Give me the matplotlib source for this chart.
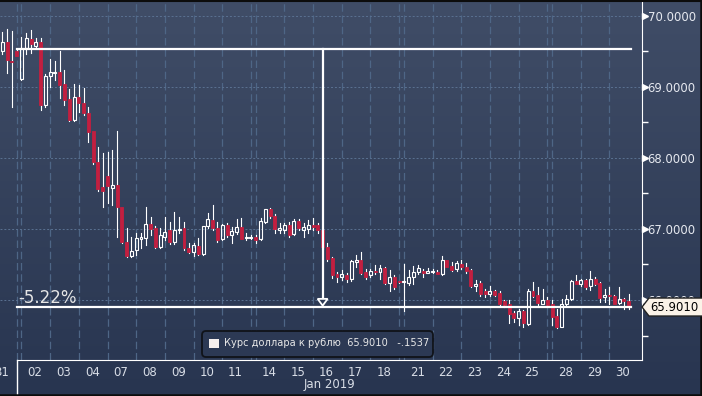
import matplotlib
matplotlib.use("Agg")
import matplotlib.pyplot as plt
import numpy as np
from matplotlib.patches import Rectangle, Polygon, FancyBboxPatch
from matplotlib.lines import Line2D
from matplotlib.ticker import FixedLocator
from matplotlib.transforms import IdentityTransform

# trading days on the x axis (6 bars per day, one extra bar after a weekend)
days = ["31", "02", "03", "04", "07", "08", "09", "10", "11", "14", "15",
        "16", "17", "18", "21", "22", "23", "24", "25", "28", "29", "30"]
weekend_after = ["31", "11", "18", "25"]
month_label = "Jan 2019"
first_slot = 3  # first bar that is visible on the chart

opens = [69.50, 69.64, 69.37, 69.50, 69.11, 69.55, 69.67, 69.58, 69.63, 68.74,
         69.15, 69.19, 69.21, 69.04, 68.83, 68.53, 68.86, 68.77, 68.64, 68.38,
         67.95, 67.59, 67.74, 67.58, 67.62, 67.31, 66.82, 66.62, 66.70, 66.86,
         66.88, 67.07, 67.01, 66.75, 66.89, 66.99, 66.81, 66.98, 67.01, 66.73,
         66.67, 66.76, 66.65, 67.04, 67.13, 67.01, 66.86, 67.06, 66.91, 66.96,
         67.03, 66.87, 66.87, 66.89, 66.86, 67.10, 67.28, 67.19, 66.99, 66.98,
         67.05, 66.93, 67.11, 66.99, 67.00, 67.05, 67.05, 66.98, 66.75, 66.59,
         66.37, 66.32, 66.35, 66.29, 66.54, 66.56, 66.39, 66.35, 66.41, 66.39,
         66.45, 66.24, 66.33, 66.27, 66.26, 66.24, 66.33, 66.39, 66.41, 66.38,
         66.39, 66.40, 66.37, 66.56, 66.48, 66.43, 66.51, 66.47, 66.42, 66.20,
         66.24, 66.12, 66.09, 66.12, 66.10, 65.98, 65.94, 65.82, 65.74, 65.84,
         65.66, 66.13, 66.07, 65.95, 66.00, 65.95, 65.77, 65.62, 65.94, 66.01,
         66.27, 66.23, 66.28, 66.20, 66.30, 66.24, 66.04, 66.07, 66.06, 65.96,
         66.02, 65.99]
highs = [69.78, 69.82, 69.79, 69.52, 69.71, 69.76, 69.80, 69.69, 69.69, 69.18,
         69.40, 69.36, 69.51, 69.24, 68.97, 69.04, 69.03, 68.99, 68.72, 68.38,
         68.16, 68.07, 68.09, 68.11, 68.38, 67.31, 67.01, 66.89, 66.94, 66.94,
         67.31, 67.17, 67.04, 67.01, 67.17, 67.10, 67.24, 67.17, 67.10, 66.80,
         66.80, 66.88, 67.04, 67.22, 67.34, 67.10, 67.07, 67.08, 67.03, 67.14,
         67.16, 66.94, 66.91, 66.92, 67.15, 67.28, 67.30, 67.21, 67.08, 67.08,
         67.10, 67.14, 67.14, 67.08, 67.12, 67.16, 67.09, 67.00, 66.80, 66.61,
         66.40, 66.42, 66.38, 66.57, 66.63, 66.68, 66.44, 66.43, 66.49, 66.49,
         66.47, 66.42, 66.35, 66.27, 66.51, 66.42, 66.48, 66.49, 66.43, 66.45,
         66.43, 66.42, 66.62, 66.57, 66.54, 66.55, 66.56, 66.52, 66.43, 66.28,
         66.27, 66.15, 66.20, 66.14, 66.13, 66.00, 66.00, 65.85, 65.88, 65.86,
         66.15, 66.26, 66.18, 66.15, 66.04, 66.00, 65.88, 66.02, 66.07, 66.28,
         66.35, 66.30, 66.30, 66.41, 66.33, 66.26, 66.15, 66.18, 66.07, 66.18,
         66.03, 66.09]
lows = [69.46, 69.20, 68.72, 69.43, 69.10, 69.47, 69.48, 69.55, 68.68, 68.72,
        69.00, 69.10, 68.85, 68.75, 68.52, 68.52, 68.65, 68.61, 68.22, 67.91,
        67.53, 67.31, 67.36, 67.34, 66.89, 66.80, 66.61, 66.61, 66.63, 66.73,
        66.77, 66.91, 66.73, 66.73, 66.85, 66.79, 66.79, 66.95, 66.70, 66.66,
        66.62, 66.63, 66.63, 67.01, 66.99, 66.82, 66.84, 66.89, 66.80, 66.93,
        66.86, 66.85, 66.86, 66.80, 66.85, 67.08, 67.15, 66.94, 66.95, 66.95,
        66.89, 66.92, 66.98, 66.89, 66.95, 66.99, 66.95, 66.72, 66.55, 66.31,
        66.26, 66.28, 66.26, 66.27, 66.47, 66.37, 66.29, 66.32, 66.37, 66.29,
        66.23, 66.13, 66.16, 66.24, 65.84, 66.21, 66.22, 66.37, 66.32, 66.38,
        66.38, 66.36, 66.35, 66.46, 66.41, 66.41, 66.43, 66.38, 66.19, 66.12,
        66.05, 66.04, 66.06, 66.06, 65.93, 65.90, 65.68, 65.69, 65.65, 65.62,
        65.65, 66.04, 65.93, 65.94, 65.91, 65.65, 65.60, 65.62, 65.93, 66.00,
        66.22, 66.20, 66.16, 66.14, 66.21, 65.97, 65.97, 65.94, 65.94, 65.95,
        65.88, 65.88]
closes = [69.63, 69.38, 69.35, 69.44, 69.55, 69.69, 69.60, 69.63, 68.74, 69.15,
          69.21, 69.21, 69.03, 68.82, 68.53, 68.86, 68.77, 68.64, 68.37, 67.95,
          67.56, 67.54, 67.61, 67.62, 67.31, 66.82, 66.62, 66.69, 66.87, 66.89,
          67.07, 67.00, 66.75, 66.92, 66.96, 66.81, 66.99, 67.00, 66.73, 66.67,
          66.77, 66.65, 67.04, 67.14, 67.01, 66.85, 67.06, 66.91, 66.97, 67.03,
          66.86, 66.88, 66.88, 66.84, 67.11, 67.28, 67.19, 67.00, 67.02, 67.05,
          66.91, 67.11, 67.01, 67.03, 67.05, 67.03, 66.98, 66.75, 66.58, 66.35,
          66.33, 66.37, 66.29, 66.55, 66.57, 66.38, 66.32, 66.41, 66.39, 66.45,
          66.24, 66.32, 66.18, 66.25, 66.27, 66.33, 66.40, 66.45, 66.38, 66.41,
          66.40, 66.37, 66.56, 66.47, 66.42, 66.52, 66.46, 66.41, 66.20, 66.22,
          66.09, 66.08, 66.12, 66.07, 65.95, 65.93, 65.80, 65.74, 65.84, 65.67,
          66.13, 66.06, 65.96, 66.00, 65.93, 65.76, 65.62, 65.95, 66.01, 66.27,
          66.23, 66.28, 66.18, 66.30, 66.23, 66.03, 66.07, 66.05, 65.95, 66.01,
          65.98, 65.901]

start_level = 69.53
last_price = 65.9010
last_change = -0.1537
series_name = "Курс доллара к рублю"
y_ticks = [66, 67, 68, 69, 70]
y_minor = [65.5, 66.5, 67.5, 68.5, 69.5]

# slot layout
day_start = []
gap_slots = []
s = 0
for d in days:
    day_start.append(s)
    s += 6
    if d in weekend_after:
        gap_slots.append(s)
        s += 1
grid_x = sorted(day_start[1:] + gap_slots)
xs = np.arange(len(opens)) + first_slot

W, H = 702, 396
fig = plt.figure(figsize=(W / 100, H / 100), dpi=100)

# gradient background
bg = fig.add_axes([0, 0, 1, 1], zorder=-10)
g = np.linspace(0, 1, 256)[:, None, None]
top_c = np.array([64, 77, 103]) / 255
bot_c = np.array([40, 53, 80]) / 255
bg.imshow(top_c * (1 - g) + bot_c * g, aspect="auto", extent=[0, 1, 0, 1])
bg.axis("off")

ax = fig.add_axes([0, 36 / H, 642 / W, 360 / H])
ax.set_facecolor("none")
ax.set_xlim(2.51, 136.8)
ax.set_ylim(65.155, 70.225)

# grid
for gx in grid_x:
    ax.axvline(gx, color="#4e6686", lw=0.9, dashes=(6, 3), zorder=0)
for gy in y_ticks:
    ax.axhline(gy, color="#5a7191", lw=0.7, dashes=(2, 2), zorder=0)

# candles
red = "#c21f40"
bw = 0.62
for x, o, h, l, c in zip(xs, opens, highs, lows, closes):
    lo_b, hi_b = min(o, c), max(o, c)
    if hi_b - lo_b < 0.012:
        hi_b = lo_b + 0.012
    ax.plot([x, x], [hi_b, h], color="white", lw=0.8, zorder=2)
    ax.plot([x, x], [l, lo_b], color="white", lw=0.8, zorder=2)
    if c >= o:
        ax.add_patch(Rectangle((x - bw / 2, lo_b), bw, hi_b - lo_b, fc="none",
                               ec="white", lw=0.8, zorder=3))
    else:
        ax.add_patch(Rectangle((x - bw / 2, lo_b), bw, hi_b - lo_b, fc=red,
                               ec=red, lw=0.6, zorder=3))

# measure lines
x0, x1 = gap_slots[0], xs[-1] + 0.5
ax.plot([x0, x1], [start_level, start_level], color="white", lw=1.6, zorder=4)
ax.plot([x0, x1], [last_price, last_price], color="white", lw=1.6, zorder=4)
ax_x = 70
tri_h = 0.115
ax.plot([ax_x, ax_x], [start_level, last_price + tri_h], color="white", lw=1.6, zorder=4)
ax.add_patch(Polygon([(ax_x - 1.05, last_price + tri_h), (ax_x + 1.05, last_price + tri_h),
                      (ax_x, last_price + 0.02)], closed=True, fc="#2e3b57",
                     ec="white", lw=1.3, zorder=5))
pct = (last_price / start_level - 1) * 100
ax.annotate(f"{pct:.2f}%", xy=(x0, last_price), xytext=(2, 4), textcoords="offset pixels",
            ha="left", va="baseline", fontsize=12, color="#e6e6e6", zorder=5)

# spines
for side in ["top", "left"]:
    ax.spines[side].set_visible(False)
ax.spines["right"].set_color("white")
ax.spines["bottom"].set_color("white")
ax.spines["bottom"].set_bounds(gap_slots[0], 136.8)
ax.plot([gap_slots[0], gap_slots[0]], [0, -0.095], color="white", lw=1,
        transform=ax.get_xaxis_transform(), clip_on=False)

# x ticks
ax.set_xticks([st + 2.8 for st in day_start])
ax.set_xticklabels(days)
ax.tick_params(axis="x", length=0, pad=4, labelsize=8.5, labelcolor="#d8dde6")
ax.text((gap_slots[0] + 136.8) / 2, -0.069, month_label, transform=ax.get_xaxis_transform(),
        ha="center", va="center", fontsize=8.5, color="#d8dde6")

# y ticks
ax.yaxis.tick_right()
ax.set_yticks(y_ticks)
ax.set_yticklabels([f"{v:.4f}" for v in y_ticks])
ax.yaxis.set_minor_locator(FixedLocator(y_minor))
ax.tick_params(axis="y", which="major", length=0, pad=4, labelsize=8.4, labelcolor="#e6e9f0")
ax.tick_params(axis="y", which="minor", length=4, width=1, color="white", direction="out")
ax.plot([1.004] * len(y_ticks), y_ticks, ls="none", marker=">", ms=4, color="white",
        transform=ax.get_yaxis_transform(), clip_on=False)

# last price flag
yd = ax.transData.transform((0, last_price))[1]
flag = Polygon([(642, yd), (649, yd + 9), (703, yd + 9), (703, yd - 9), (649, yd - 9)],
               closed=True, fc="#fbf3e8", ec="#222222", lw=1, transform=IdentityTransform(),
               zorder=5)
fig.add_artist(flag)
fig.text(650 / W, yd / H, f"{last_price:.4f}", ha="left", va="center", fontsize=8.4,
         color="black", zorder=6)

# legend
leg = FancyBboxPatch((202, H - 357), 231, 26, boxstyle="round,pad=0,rounding_size=4",
                     fc="#2c3954", ec="#101319", lw=1.3, transform=IdentityTransform(), zorder=5)
fig.add_artist(leg)
fig.add_artist(Rectangle((209, H - 348), 9.5, 9.5, fc="#f6f0ee", ec="none",
                         transform=IdentityTransform(), zorder=6))
fig.text(224 / W, (H - 343.5) / H,
         f"{series_name}  {last_price:.4f}   {last_change:+.4f}".replace("-0.", "-."),
         ha="left", va="center", fontsize=7.1, color="#e8e8e8", zorder=6)

# frame
fig.add_artist(Line2D([0, W], [H - 1, H - 1], color="#0c0c0c", lw=1.5, transform=IdentityTransform()))
fig.add_artist(Line2D([W - 1.5, W - 1.5], [0, H], color="#0c0c0c", lw=1.8, transform=IdentityTransform()))
fig.add_artist(Line2D([0, W], [1.5, 1.5], color="#0c0c0c", lw=1.8, transform=IdentityTransform()))

fig.savefig("out.png", dpi=100)
